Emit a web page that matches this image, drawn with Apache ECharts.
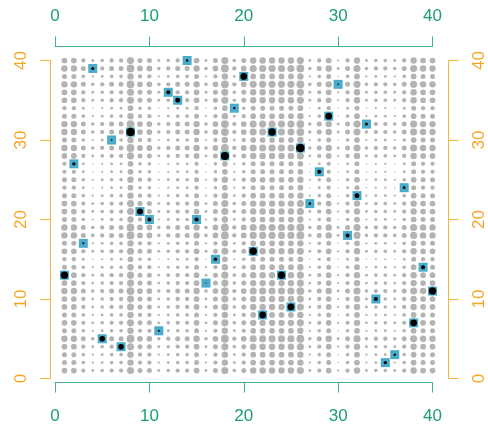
<!DOCTYPE html>
<html><head><meta charset="utf-8">
<script src="https://cdn.jsdelivr.net/npm/echarts@6/dist/echarts.min.js"></script>
<style>html,body{margin:0;padding:0;background:#fff}#c{width:488px;height:425px}</style>
</head><body><div id="c"></div>
<script>
// Tick labels
const xTicks = [0, 10, 20, 30, 40];
const yTicks = [0, 10, 20, 30, 40];

// Gray background dots: size level (0-9) per cell, one string per row from y=40 (top) down to y=1; character k = column x=k+1
const grayRows = [
  "6642344855234462583577777824614723324766", // y=40
  "7753455966345573694688888935725834435877", // 39
  "5531233744123351472466666713503612213655", // 38
  "7753455966345573694688888935725834435877", // 37
  "6642344855234462583577777824614723324766", // 36
  "6642344855234462583577777824614723324766", // 35
  "4420122633012240361355555602402501102544", // 34
  "5531233744123351472466666713503612213655", // 33
  "7753455966345573694688888935725834435877", // 32
  "7753455966345573694688888935725834435877", // 31
  "5531233744123351472466666713503612213655", // 30
  "7753455966345573694688888935725834435877", // 29
  "6642344855234462583577777824614723324766", // 28
  "4420122633012240361355555602402501102544", // 27
  "4420122633012240361355555602402501102544", // 26
  "5531233744123351472466666713503612213655", // 25
  "4420122633012240361355555602402501102544", // 24
  "5531233744123351472466666713503612213655", // 23
  "6642344855234462583577777824614723324766", // 22
  "6642344855234462583577777824614723324766", // 21
  "5531233744123351472466666713503612213655", // 20
  "7753455966345573694688888935725834435877", // 19
  "7753455966345573694688888935725834435877", // 18
  "5531233744123351472466666713503612213655", // 17
  "6642344855234462583577777824614723324766", // 16
  "4420122633012240361355555602402501102544", // 15
  "5531233744123351472466666713503612213655", // 14
  "6642344855234462583577777824614723324766", // 13
  "6642344855234462583577777824614723324766", // 12
  "7753455966345573694688888935725834435877", // 11
  "6642344855234462583577777824614723324766", // 10
  "6642344855234462583577777824614723324766", // 9
  "5531233744123351472466666713503612213655", // 8
  "6642344855234462583577777824614723324766", // 7
  "5531233744123351472466666713503612213655", // 6
  "7753455966345573694688888935725834435877", // 5
  "6642344855234462583577777824614723324766", // 4
  "5531233744123351472466666713503612213655", // 3
  "5531233744123351472466666713503612213655", // 2
  "6642344855234462583577777824614723324766"  // 1
];

// Highlighted points (blue square with black dot of given size)
const hlX =    [4, 14, 12, 13, 20, 19, 30, 29, 33, 8, 23, 6, 26, 18, 2, 28, 37, 32, 27, 9, 10, 15, 3, 31, 21, 17, 1, 24, 16, 39, 40, 34, 11, 22, 25, 38, 5, 7, 36, 35];
const hlY =    [39, 40, 36, 35, 38, 34, 37, 33, 32, 31, 31, 30, 29, 28, 27, 26, 24, 23, 22, 21, 20, 20, 17, 18, 16, 15, 13, 13, 12, 14, 11, 10, 6, 8, 9, 7, 5, 4, 3, 2];
const hlDot =  [3, 2.5, 4, 4.8, 6.7, 2.3, 1.6, 6.7, 3, 8.6, 7.4, 1.6, 8.6, 8, 3.4, 4, 2.7, 4.8, 2.6, 6, 4, 4.2, 2, 4, 7.4, 3.4, 7.4, 7.2, 1, 4, 7.4, 4, 2, 6.7, 6.7, 6.8, 5.6, 5.6, 2.4, 3.2];

const teal = '#1B9E77', tealLine = '#45B08F';
const orange = '#F5A623', orangeLine = '#F8B43C';
const grayCol = '#B3B3B3', blueCol = '#4AABCA';
const font = 'Liberation Sans, Arial, sans-serif';

const grayData = [];
grayRows.forEach((row, i) => {
  const y = 40 - i;
  for (let k = 0; k < row.length; k++) grayData.push([k + 1, y, +row[k]]);
});
const hlSquares = hlX.map((x, i) => [x, hlY[i]]);
const hlDots = hlX.map((x, i) => [x, hlY[i], hlDot[i]]);

function xAx(pos, offset, margin) {
  return {
    type: 'value', position: pos, min: 0, max: 40, interval: 10, offset: offset,
    axisLine: { show: true, onZero: false, lineStyle: { color: tealLine, width: 1 } },
    axisTick: { show: true, inside: false, length: 10, lineStyle: { color: tealLine, width: 1 } },
    axisLabel: { show: true, color: teal, fontSize: 17, fontFamily: font, margin: margin },
    splitLine: { show: false }
  };
}
function yAx(pos, offset, margin) {
  return {
    type: 'value', position: pos, min: 0, max: 40, interval: 10, offset: offset,
    axisLine: { show: true, onZero: false, lineStyle: { color: orangeLine, width: 1 } },
    axisTick: { show: true, inside: false, length: 10, lineStyle: { color: orangeLine, width: 1 } },
    axisLabel: { show: true, color: orange, fontSize: 17, fontFamily: font, margin: margin, rotate: 90 },
    splitLine: { show: false }
  };
}

const chart = echarts.init(document.getElementById('c'), null, { renderer: 'canvas' });
chart.setOption({
  animation: false,
  backgroundColor: '#ffffff',
  grid: { left: 55, right: 54.7, top: 60.5, bottom: 46.5, containLabel: false },
  xAxis: [xAx('bottom', 4, 25), xAx('top', 14, 21.5)],
  yAxis: [yAx('left', 5, 20), yAx('right', 16, 22.5)],
  series: [
    {
      type: 'scatter', xAxisIndex: 0, yAxisIndex: 0, silent: true,
      symbol: 'circle', data: grayData,
      symbolSize: v => 1.5 + 0.7 * v[2],
      itemStyle: { color: grayCol, opacity: 1 }
    },
    {
      type: 'scatter', xAxisIndex: 0, yAxisIndex: 0, silent: true,
      symbol: 'rect', symbolSize: 9, data: hlSquares,
      itemStyle: { color: blueCol, opacity: 1 }
    },
    {
      type: 'scatter', xAxisIndex: 0, yAxisIndex: 0, silent: true,
      symbol: 'circle', data: hlDots, symbolSize: v => v[2],
      itemStyle: { color: '#000000', opacity: 1 }
    }
  ]
});
</script>
</body></html>
